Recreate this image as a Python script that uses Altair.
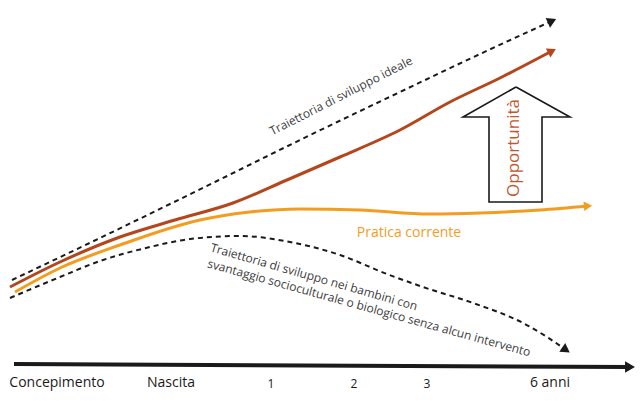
import altair as alt
import pandas as pd
import numpy as np

W, H = 628, 385
FONT = "Open Sans"

# Curves (x = time-ish units, y = development-ish units)
ideal_x = [4, 92, 209, 292, 392, 472, 544]
ideal_y = [121, 163, 220, 261, 309, 347, 380]

opp_x = [2, 52, 112, 167, 225, 279, 332, 392, 442, 492, 544]
opp_y = [114, 139, 164, 181, 198, 221, 244, 271, 299, 323, 350]

curr_x = [7, 52, 112, 192, 242, 292, 352, 422, 472, 532, 580]
curr_y = [109, 133, 156, 181, 189, 192, 191, 187, 188, 191, 195]

dis_x = [2, 52, 92, 142, 182, 232, 282, 332, 379, 415, 465, 515, 539, 558]
dis_y = [103, 124, 140, 154, 162, 165, 159, 146, 127, 114, 98, 78, 64, 51]

axis_x = [6, 622]
axis_y = [37, 34]

# Big hollow "opportunity" arrow outline
big_x = [508, 562, 534, 534, 481, 481, 455, 508]
big_y = [314, 284, 284, 199, 199, 284, 284, 314]

# Time labels
tick_labels = ["Concepimento", "Nascita", "1", "2", "3", "6 anni"]
tick_x = [49, 163, 263, 346, 419, 542]
tick_y = [14, 14, 13, 13, 13, 14]
tick_size = [14, 14, 12, 12, 12, 14]

xs = alt.Scale(domain=[0, W], nice=False, zero=False)
ys = alt.Scale(domain=[8, 8 + H], nice=False, zero=False)


def line_df(xv, yv):
    return pd.DataFrame({"x": xv, "y": yv, "o": range(len(xv))})


def line_layer(xv, yv, color, width, dash=None):
    kw = dict(color=color, strokeWidth=width, interpolate="monotone", clip=False)
    if dash:
        kw["strokeDash"] = dash
    return alt.Chart(line_df(xv, yv)).mark_line(**kw).encode(
        x=alt.X("x:Q", scale=xs, axis=None),
        y=alt.Y("y:Q", scale=ys, axis=None),
        order="o:Q",
    )


def head_layer(xv, yv, color, size):
    dx = xv[-1] - xv[-2]
    dy = yv[-1] - yv[-2]
    ang = float(np.degrees(np.arctan2(dx, dy)))
    df = pd.DataFrame({"x": [xv[-1]], "y": [yv[-1]], "a": [ang]})
    return alt.Chart(df).mark_point(
        shape="triangle-up", filled=True, color=color, size=size, opacity=1, clip=False
    ).encode(
        x=alt.X("x:Q", scale=xs, axis=None),
        y=alt.Y("y:Q", scale=ys, axis=None),
        angle=alt.Angle("a:Q", scale=None),
    )


def text_layer(txt, x, y, angle, color, size, align="center", baseline="middle"):
    df = pd.DataFrame({"x": [x], "y": [y], "t": [txt]})
    return alt.Chart(df).mark_text(
        angle=angle, color=color, fontSize=size, font=FONT, align=align, baseline=baseline
    ).encode(
        x=alt.X("x:Q", scale=xs, axis=None),
        y=alt.Y("y:Q", scale=ys, axis=None),
        text="t:N",
    )


BLACK = "#1a1a1a"
RED = "#b5461c"
ORANGE = "#f39c1f"
GRAY = "#3c3c3c"

layers = [
    line_layer(axis_x, axis_y, BLACK, 4),
    head_layer(axis_x, axis_y, BLACK, 130),
    line_layer(ideal_x, ideal_y, BLACK, 2, [5, 4]),
    head_layer(ideal_x, ideal_y, BLACK, 110),
    line_layer(dis_x, dis_y, BLACK, 2, [5, 4]),
    head_layer(dis_x, dis_y, BLACK, 110),
    line_layer(curr_x, curr_y, ORANGE, 3),
    head_layer(curr_x, curr_y, ORANGE, 90),
    line_layer(opp_x, opp_y, RED, 3),
    head_layer(opp_x, opp_y, RED, 100),
    alt.Chart(line_df(big_x, big_y)).mark_line(color=BLACK, strokeWidth=1.6, clip=False).encode(
        x=alt.X("x:Q", scale=xs, axis=None),
        y=alt.Y("y:Q", scale=ys, axis=None),
        order="o:Q",
    ),
    text_layer("Opportunità", 506, 253, 270, "#c4552b", 17),
    text_layer("Traiettoria di sviluppo ideale", 333, 305, 333, GRAY, 12),
    text_layer("Pratica corrente", 401, 168, 0, ORANGE, 14),
    text_layer("Traiettoria di sviluppo nei bambini con", 306, 124, 16, GRAY, 12),
    text_layer("svantaggio socioculturale o biologico senza alcun intervento", 361, 93, 15.5, GRAY, 12),
]

tick_df = pd.DataFrame({"x": tick_x, "y": tick_y, "t": tick_labels, "s": tick_size})
layers.append(
    alt.Chart(tick_df).mark_text(color=BLACK, font=FONT, align="center", baseline="alphabetic").encode(
        x=alt.X("x:Q", scale=xs, axis=None),
        y=alt.Y("y:Q", scale=ys, axis=None),
        text="t:N",
        size=alt.Size("s:Q", scale=None),
    )
)

chart = alt.layer(*layers).properties(
    width=W, height=H, autosize="none", padding=0
).configure_view(stroke=None)

chart.save("out.html", embed_options={"renderer": "svg", "actions": False})
